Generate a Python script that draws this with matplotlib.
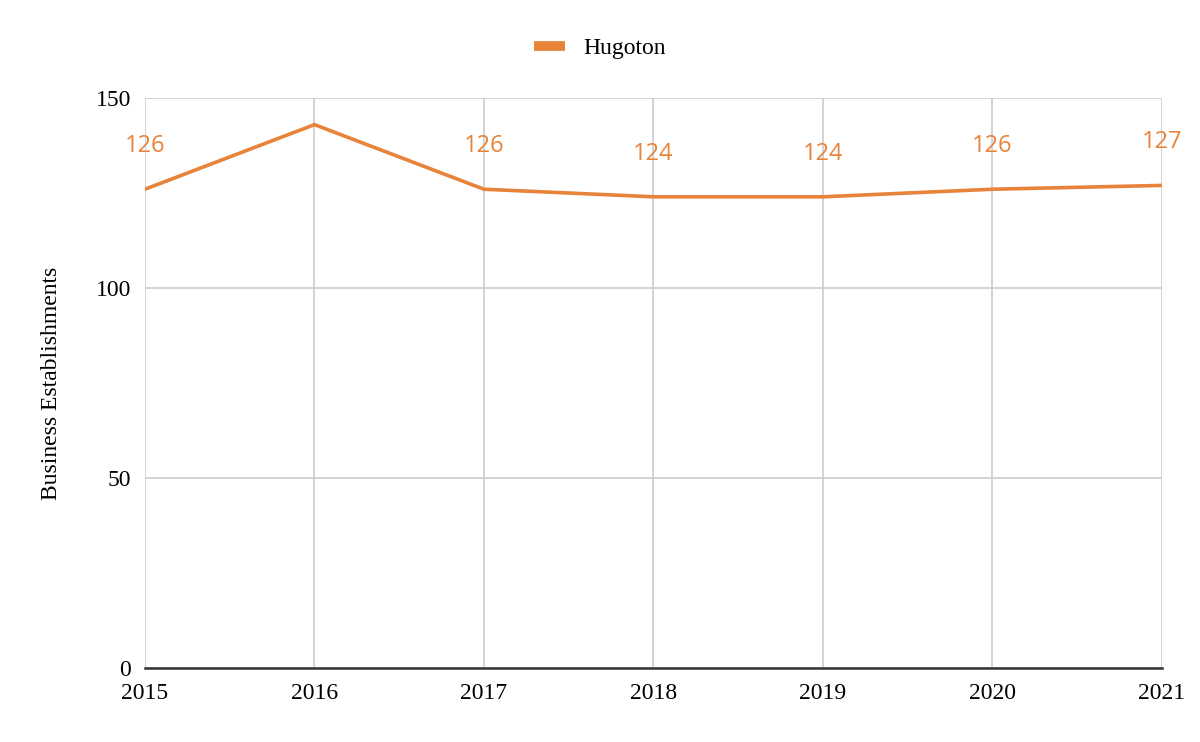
import matplotlib
matplotlib.use("Agg")
import matplotlib.pyplot as plt

years = [2015, 2016, 2017, 2018, 2019, 2020, 2021]
values = [126, 143, 126, 124, 124, 126, 127]
labels = ["126", "", "126", "124", "124", "126", "127"]
series_name = "Hugoton"
yticks = [0, 50, 100, 150]

color = "#E8833A"
serif = ["Liberation Serif", "DejaVu Serif"]

fig = plt.figure(figsize=(12, 7.42), dpi=100)
ax = fig.add_axes([0.1208, 0.0997, 0.8475, 0.7682])

ax.plot(years, values, color=color, linewidth=2.6, label=series_name, solid_capstyle="butt")
for x, v, t in zip(years, values, labels):
    if t:
        ax.annotate(t, (x, v), xytext=(0, 31), textcoords="offset points",
                    ha="center", va="center", color=color, fontsize=17,
                    family=["Open Sans", "DejaVu Sans"])

ax.set_xlim(years[0], years[-1])
ax.set_ylim(0, 150)
ax.set_xticks(years)
ax.set_yticks(yticks)
ax.grid(True, color="#cccccc", linewidth=1.2)
ax.set_axisbelow(True)
for s in ["top", "right", "left"]:
    ax.spines[s].set_visible(False)
ax.spines["bottom"].set_color("#333333")
ax.spines["bottom"].set_linewidth(1.8)
ax.spines["bottom"].set_zorder(3)
ax.tick_params(length=0, labelsize=17)
ax.tick_params(axis="y", pad=10)
ax.tick_params(axis="x", pad=11)
for lab in ax.get_xticklabels() + ax.get_yticklabels():
    lab.set_family(serif)
ax.set_ylabel("Business Establishments", fontsize=17, family=serif, labelpad=24)

handles, leg_labels = ax.get_legend_handles_labels()
leg = fig.legend(handles, leg_labels, loc="center", bbox_to_anchor=(0.5, 0.935), frameon=False,
                 prop={"family": serif, "size": 17}, handlelength=1.3, handletextpad=0.8)
for h in leg.get_lines():
    h.set_linewidth(7)

fig.savefig("out.png", dpi=100)
